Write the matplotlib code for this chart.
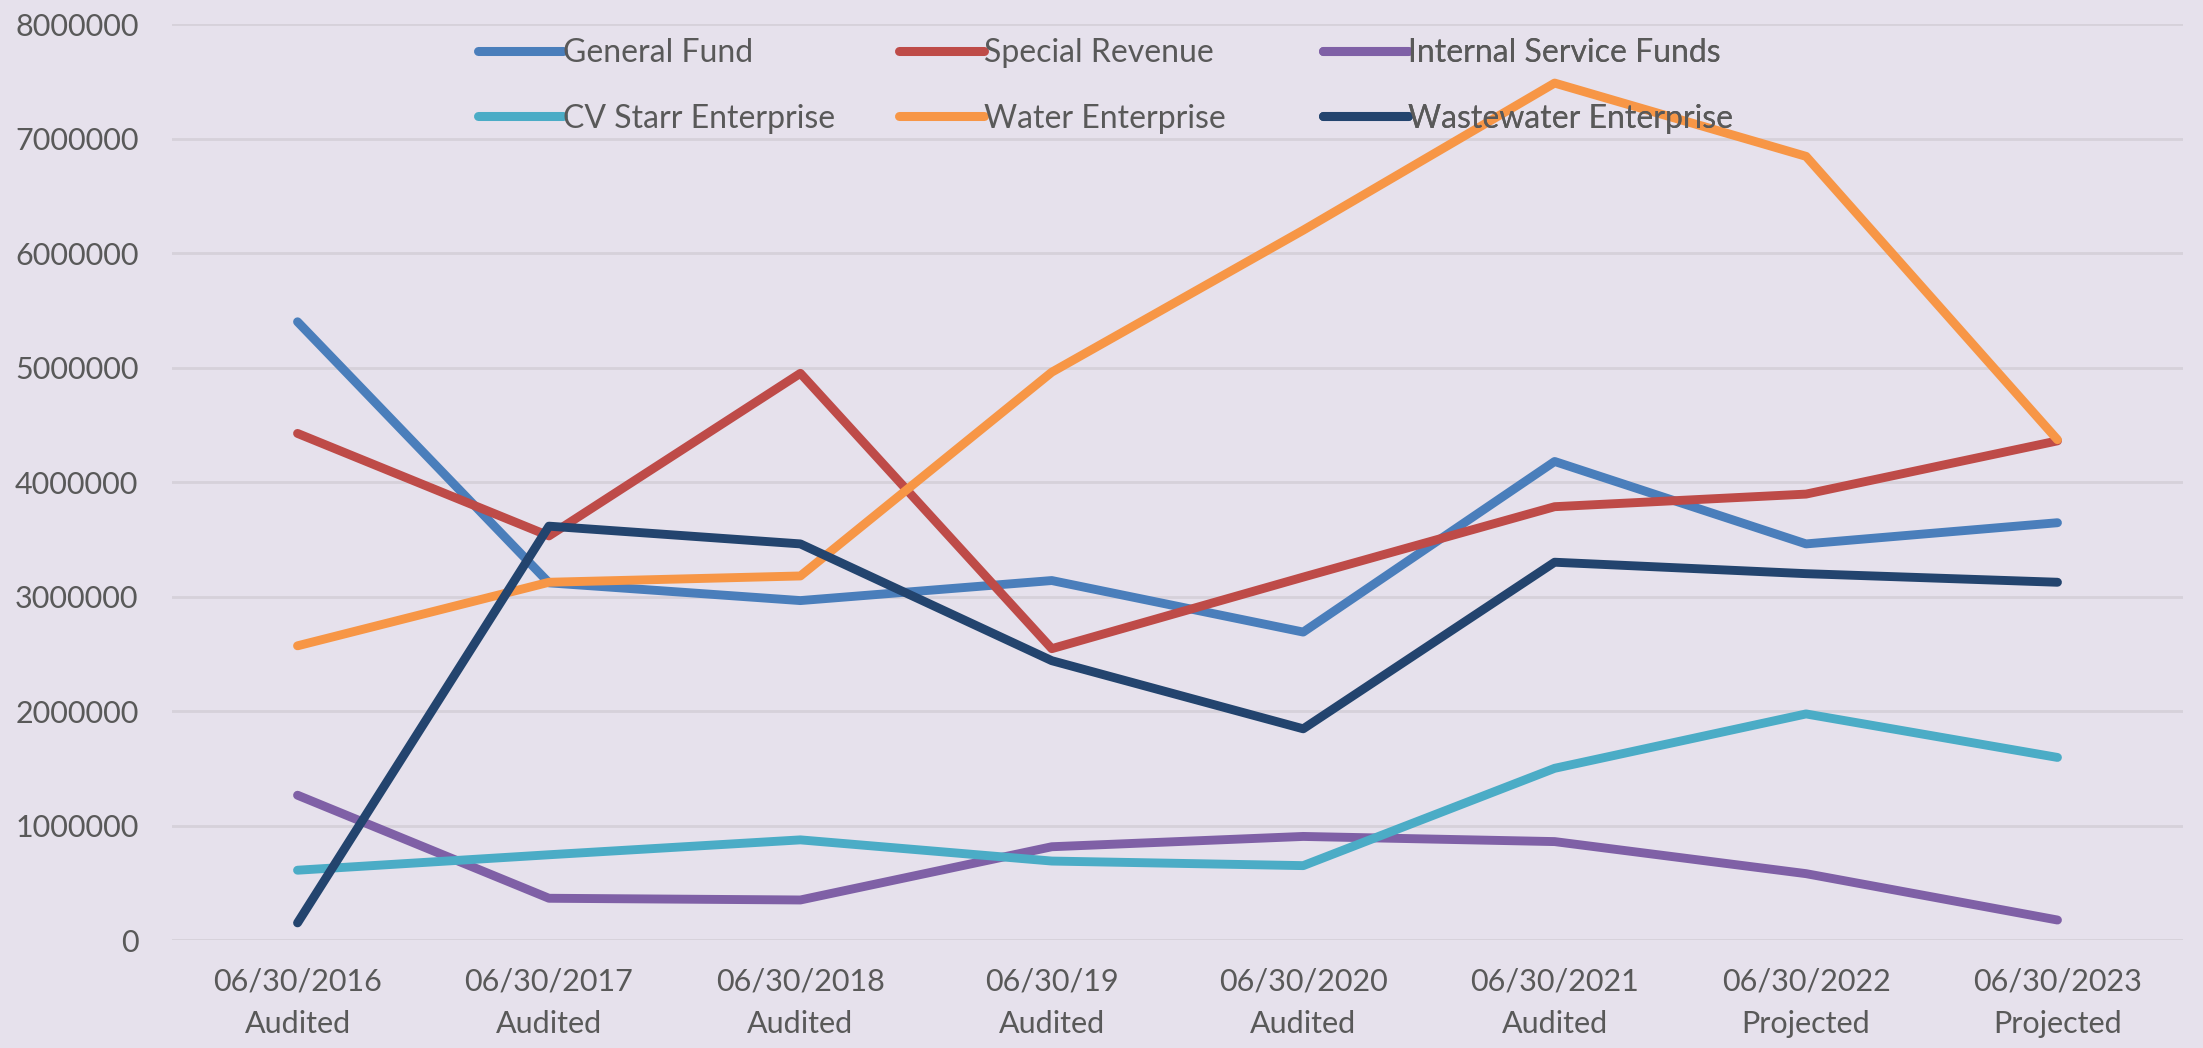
import matplotlib
matplotlib.use("Agg")
import matplotlib.pyplot as plt
import numpy as np

# fund balances by fiscal year end
periods = ["06/30/2016\nAudited", "06/30/2017\nAudited", "06/30/2018\nAudited",
           "06/30/19\nAudited", "06/30/2020\nAudited", "06/30/2021\nAudited",
           "06/30/2022\nProjected", "06/30/2023\nProjected"]

general_fund = [5400000, 3120000, 2965000, 3140000, 2690000, 4180000, 3460000, 3645000]
special_revenue = [4425000, 3530000, 4950000, 2545000, 3170000, 3785000, 3895000, 4360000]
internal_service = [1265000, 365000, 350000, 815000, 905000, 860000, 580000, 175000]
cv_starr = [610000, 745000, 875000, 690000, 650000, 1500000, 1975000, 1595000]
water = [2570000, 3125000, 3180000, 4960000, 6200000, 7485000, 6845000, 4370000]
wastewater = [150000, 3615000, 3460000, 2440000, 1845000, 3300000, 3200000, 3125000]

series_names = ["General Fund", "Special Revenue", "Internal Service Funds",
                "CV Starr Enterprise", "Water Enterprise", "Wastewater Enterprise"]
series_vals = [general_fund, special_revenue, internal_service, cv_starr, water, wastewater]
colors = ["#4a7ebb", "#be4b48", "#7f60a6", "#4bacc6", "#f79646", "#23446e"]

bg = "#e6e1ec"
txt = "#595959"
plt.rcParams["font.family"] = ["Lato", "DejaVu Sans"]
fs = 22

fig = plt.figure(figsize=(22.03, 10.48), dpi=100, facecolor=bg)
ax = fig.add_axes([0.078, 0.103, 0.913, 0.874])
ax.set_facecolor(bg)

x = np.arange(len(periods))
lines = []
for name, vals, c in zip(series_names, series_vals, colors):
    ln, = ax.plot(x, vals, color=c, lw=6.4, label=name,
                  solid_capstyle="round", solid_joinstyle="round")
    lines.append(ln)

ax.set_xlim(-0.5, len(periods) - 0.5)
ax.set_ylim(0, 8000000)
ax.set_yticks(np.arange(0, 8000001, 1000000))
ax.set_yticklabels([f"{int(v)}" for v in np.arange(0, 8000001, 1000000)])
ax.set_xticks(x)
ax.set_xticklabels(periods, linespacing=1.6)
ax.grid(axis="y", color="#d6d1da", lw=2)
ax.set_axisbelow(True)
for s in ax.spines.values():
    s.set_visible(False)
ax.tick_params(axis="both", length=0, labelsize=fs, colors=txt)
ax.tick_params(axis="x", pad=20)
ax.tick_params(axis="y", pad=24)

# legend: three columns of two entries each, laid over the top of the plot
col_x = [478 / 2203, 899 / 2203, 1323 / 2203]
for i in range(3):
    leg = ax.legend([lines[i], lines[i + 3]], [series_names[i], series_names[i + 3]],
                    loc="center left", bbox_to_anchor=(col_x[i], 1 - 86 / 1048),
                    bbox_transform=fig.transFigure, frameon=False, fontsize=fs + 1,
                    handlelength=2.65, handletextpad=0.0, labelspacing=1.1,
                    borderpad=0, borderaxespad=0)
    for t in leg.get_texts():
        t.set_color(txt)
    for h in leg.legend_handles:
        h.set_linewidth(6.5)
    ax.add_artist(leg)

fig.savefig("out.png", dpi=100, facecolor=bg)
